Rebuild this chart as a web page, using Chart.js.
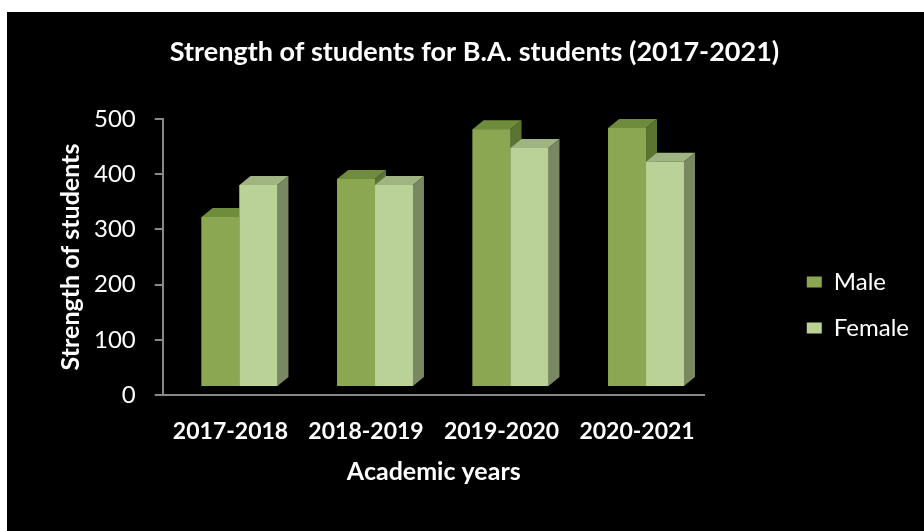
<!DOCTYPE html>
<html><head><meta charset="utf-8">
<script src="https://cdn.jsdelivr.net/npm/chart.js@4"></script>
<style>
html,body{margin:0;padding:0;background:#fff;}
#wrap{position:absolute;left:7px;top:12px;width:917px;height:519px;background:#000;}
</style></head><body>
<div id="wrap"><canvas id="c" width="917" height="519"></canvas></div>
<script>
const categories = ['2017-2018','2018-2019','2019-2020','2020-2021'];
const seriesNames = ['Male','Female'];
const maleValues = [308, 377, 467, 469];
const femaleValues = [366, 366, 433, 408];
const yTickValues = [0, 100, 200, 300, 400, 500];
const chartTitle = 'Strength of students for B.A. students (2017-2021)';
const xTitle = 'Academic years';
const yTitle = 'Strength of students';

const DEPTH_X = 11, DEPTH_Y = 9, SHIFT_X = 9, SHIFT_Y = -8;

const bar3d = {
  id: 'bar3d',
  afterLayout(chart) {
    const ca = chart.chartArea;
    const lg = chart.legend;
    if (lg) {
      lg.left = ca.right + 80;
      lg.right = lg.left + lg.width;
      lg.top = ca.top + 129;
      lg.bottom = lg.top + lg.height;
    }
    const tb = chart.titleBlock;
    if (tb) {
      tb.left += 27;
      tb.right += 27;
    }
  },
  beforeDatasetsDraw(chart) {
    chart.ctx.save();
    chart.ctx.translate(SHIFT_X, SHIFT_Y);
  },
  afterDatasetsDraw(chart) {
    const ctx = chart.ctx;
    chart.data.datasets.forEach((ds, i) => {
      const meta = chart.getDatasetMeta(i);
      meta.data.forEach(el => {
        const p = el.getProps(['x', 'y', 'base', 'width'], true);
        const l = p.x - p.width / 2, r = p.x + p.width / 2, t = p.y, b = p.base;
        ctx.fillStyle = ds.backgroundColor;
        ctx.fillRect(l, t, r - l, b - t);
        ctx.fillStyle = ds.topColor;
        ctx.beginPath();
        ctx.moveTo(l, t); ctx.lineTo(l + DEPTH_X, t - DEPTH_Y);
        ctx.lineTo(r + DEPTH_X, t - DEPTH_Y); ctx.lineTo(r, t); ctx.closePath(); ctx.fill();
        ctx.fillStyle = ds.sideColor;
        ctx.beginPath();
        ctx.moveTo(r, t); ctx.lineTo(r + DEPTH_X, t - DEPTH_Y);
        ctx.lineTo(r + DEPTH_X, b - DEPTH_Y); ctx.lineTo(r, b); ctx.closePath(); ctx.fill();
      });
    });
    ctx.restore();
  }
};

new Chart(document.getElementById('c'), {
  type: 'bar',
  data: {
    labels: categories,
    datasets: [
      { label: seriesNames[0], data: maleValues, backgroundColor: '#8ca752', topColor: '#6f8c3c', sideColor: '#5b7431', borderWidth: 0 },
      { label: seriesNames[1], data: femaleValues, backgroundColor: '#bad198', topColor: '#9fb482', sideColor: '#7a8861', borderWidth: 0 }
    ]
  },
  options: {
    responsive: false,
    devicePixelRatio: 1,
    animation: false,
    categoryPercentage: 0.56,
    barPercentage: 1,
    layout: { padding: { left: 49, right: 85, top: 0, bottom: 44 } },
    plugins: {
      title: { display: true, text: chartTitle, color: '#fff', font: { family: 'Lato', size: 27, weight: 'bold' }, padding: { top: 24, bottom: 50.6 } },
      legend: {
        position: 'right', align: 'start',
        labels: { color: '#fff', font: { family: 'Lato', size: 24 }, boxWidth: 15, boxHeight: 11, padding: 22 }
      },
      tooltip: { enabled: false }
    },
    scales: {
      x: {
        grid: { display: false, drawTicks: false },
        border: { display: true, color: '#888', width: 2 },
        ticks: { color: '#fff', font: { family: 'Lato', size: 23, weight: 'bold' }, padding: 23 },
        title: { display: true, text: xTitle, color: '#fff', font: { family: 'Lato', size: 25, weight: 'bold' }, padding: { top: 11.4, bottom: 0 } },
        afterFit(scale) { scale.height -= scale.options.ticks.padding; }
      },
      y: {
        min: 0, max: 500,
        afterBuildTicks(scale) { scale.ticks = yTickValues.map(v => ({ value: v })); },
        grid: { display: true, drawOnChartArea: false, drawTicks: true, tickLength: 8, color: '#888', lineWidth: 2 },
        border: { display: true, color: '#888', width: 2 },
        ticks: { color: '#fff', font: { family: 'Lato', size: 24 }, padding: 19 },
        title: { display: true, text: yTitle, color: '#fff', font: { family: 'Lato', size: 25, weight: 'bold' }, padding: { top: 0, bottom: 8 } },
        afterFit(scale) { scale.width -= scale.options.ticks.padding; }
      }
    }
  },
  plugins: [bar3d]
});
</script>
</body></html>
